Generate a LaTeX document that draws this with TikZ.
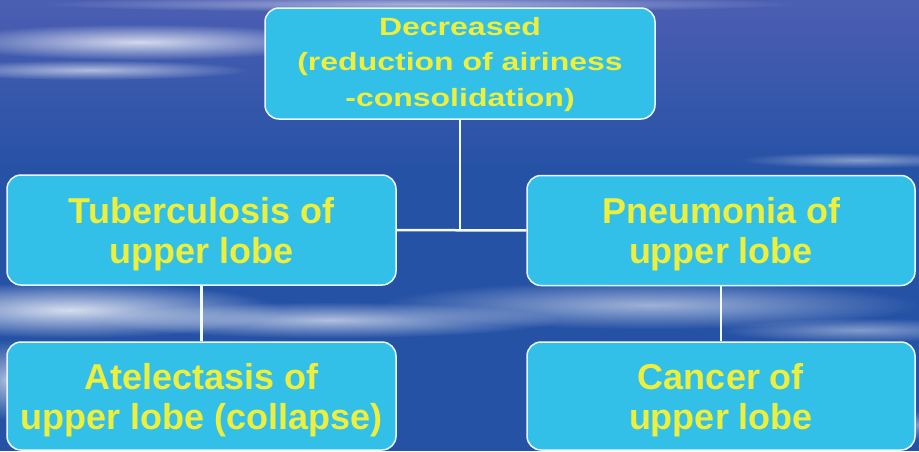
\documentclass[tikz,border=0pt]{standalone}
\usepackage{fontspec}
\setmainfont{Liberation Sans}
\usepackage{tikz}
\usetikzlibrary{fadings}
\usepackage{xcolor}
\definecolor{skyblue}{RGB}{38,82,166}
\definecolor{skytop}{RGB}{76,94,178}
\definecolor{boxcyan}{RGB}{50,192,232}
\definecolor{txtyellow}{RGB}{238,238,60}
\tikzfading[name=streakfade,inner color=transparent!15,outer color=transparent!100]
\newcommand{\topstrut}{\rule{0pt}{34pt}}

\begin{document}
\begin{tikzpicture}[x=1pt,y=-1pt,
  box/.style={draw=white!92!cyan,line width=1.5pt,fill=boxcyan,rounded corners=14pt,
    text=txtyellow,font=\fontsize{36}{40}\selectfont\bfseries,align=center,inner sep=0pt,
    minimum width=389pt,minimum height=110pt},
  link/.style={white!95!cyan,line width=2.5pt},
  streak/.style={white,path fading=streakfade}]
\useasboundingbox (0,0) rectangle (919,451);
\begin{scope}
\clip (0,0) rectangle (919,451);
\fill[skyblue] (0,0) rectangle (919,451);
\shade[top color=skytop,bottom color=skyblue] (0,0) rectangle (919,170);
\fill[streak,opacity=.9] (140,42) ellipse (200 and 18);
\fill[streak,opacity=.7] (90,70) ellipse (160 and 10);
\fill[streak,opacity=.6] (420,4) ellipse (380 and 8);
\fill[streak,opacity=.5] (860,160) ellipse (120 and 8);
\fill[streak,opacity=.95] (70,310) ellipse (210 and 28);
\fill[streak,opacity=.75] (330,320) ellipse (230 and 18);
\fill[streak,opacity=.65] (650,305) ellipse (270 and 24);
\fill[streak,opacity=.5] (860,330) ellipse (140 and 12);
\fill[streak,opacity=.7] (5,380) ellipse (30 and 40);
\fill[streak,opacity=.5] (915,425) ellipse (40 and 14);
\end{scope}
\node[box,minimum width=390pt,minimum height=111pt,font=\fontsize{25}{35.5}\selectfont\bfseries] (decr) at (460,63.5)
  {\scalebox{1.28}[1]{\begin{tabular}{@{}c@{}}Decreased\\(reduction of airiness\\-consolidation)\end{tabular}}};
\node[box] (tuber) at (201.5,230) {\topstrut Tuberculosis of\\upper lobe};
\node[box,minimum width=388pt] (pneum) at (721,230.5) {\topstrut Pneumonia of\\upper lobe};
\node[box,minimum height=108pt] (atel) at (201.5,396) {\topstrut Atelectasis of\\upper lobe (collapse)};
\node[box,minimum width=388pt,minimum height=108pt] (canc) at (721,396) {\topstrut Cancer of\\upper lobe};
\coordinate (junc) at (decr.south |- tuber.east);
\draw[link] (decr) -- (junc);
\draw[link] (tuber) -- (pneum);
\draw[link] (tuber) -- (atel);
\draw[link] (pneum) -- (canc);
\end{tikzpicture}
\end{document}
